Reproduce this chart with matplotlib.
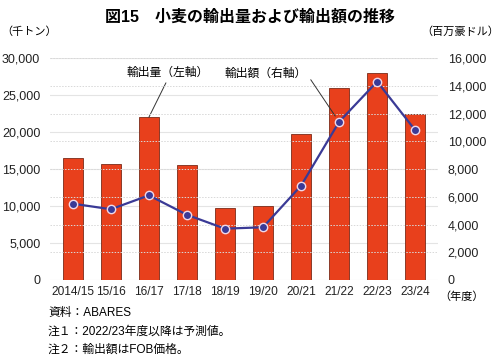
import numpy as np
import matplotlib.pyplot as plt

plt.rcParams['font.family'] = ['Liberation Sans', 'Noto Sans CJK JP', 'DejaVu Sans']

years = ['2014/15', '15/16', '16/17', '17/18', '18/19', '19/20',
         '20/21', '21/22', '22/23', '23/24']
volume = [16500, 15700, 22000, 15500, 9700, 10000, 19700, 25900, 28000, 22500]   # 千トン
value = [5500, 5100, 6100, 4700, 3700, 3800, 6800, 11400, 14300, 10800]          # 百万豪ドル

x = np.arange(len(years))

fig = plt.figure(figsize=(5, 3.56), dpi=100)
ax1 = fig.add_axes([0.10, 0.2135, 0.776, 0.6235])
ax2 = ax1.twinx()

# grid lines
for v in range(0, 30001, 5000):
    ax1.axhline(v, color='#e4e4e4', lw=0.8, zorder=0)
for v in range(2000, 16001, 2000):
    ax2.axhline(v, color='#d8d8d8', lw=0.7, ls=(0, (1.5, 1.5)), zorder=0)

ax1.bar(x, volume, width=0.52, color='#e8401c', edgecolor='#7a2a18', lw=0.6, zorder=2)
ax2.plot(x, value, color='#3a3a96', lw=1.6, marker='o', ms=6,
         mfc='#3a3a96', mec='#f0d8e8', mew=1.0, zorder=3)

ax1.set_zorder(1)
ax2.set_zorder(2)
ax1.patch.set_visible(False)

ax1.set_xlim(-0.6, len(years) - 0.4)
ax1.set_ylim(0, 30000)
ax2.set_ylim(0, 16000)
ax1.set_yticks(range(0, 30001, 5000))
ax2.set_yticks(range(0, 16001, 2000))
ax1.set_yticklabels([f'{v:,}' for v in range(0, 30001, 5000)])
ax2.set_yticklabels([f'{v:,}' for v in range(0, 16001, 2000)])
ax1.set_xticks(x)
ax1.set_xticklabels(years)

for a in (ax1, ax2):
    for s in a.spines.values():
        s.set_visible(False)
    a.tick_params(length=0, labelsize=9, colors='#222222')
ax1.tick_params(axis='y', pad=7)
ax2.tick_params(axis='y', pad=7)
ax1.tick_params(axis='x', pad=4, labelsize=8.6)
ax1.get_xticklabels()[0].set_x(-0.08)

fig.text(0.5, 0.952, '図15　小麦の輸出量および輸出額の推移', ha='center', va='center',
         fontsize=11.5, fontweight='bold')
fig.text(0.003, 0.91, '（千トン）', fontsize=8, va='center')
fig.text(0.998, 0.91, '（百万豪ドル）', fontsize=8, va='center', ha='right')
fig.text(0.878, 0.166, '（年度）', fontsize=8, va='center')

ax1.annotate('輸出量（左軸）', xy=(2.0, 22000), xytext=(2.5, 28000),
             fontsize=8.5, ha='center', va='center',
             arrowprops=dict(arrowstyle='-', color='#333333', lw=0.7, shrinkA=1, shrinkB=0,
                             relpos=(0.5, 0.0)))
ax2.annotate('輸出額（右軸）', xy=(7.0, 11400), xytext=(5.06, 14900),
             fontsize=8.5, ha='center', va='center',
             arrowprops=dict(arrowstyle='-', color='#333333', lw=0.7, shrinkA=2, shrinkB=5,
                             relpos=(1.0, 0.5)))

notes = ['資料：ABARES', '注１：2022/23年度以降は予測値。', '注２：輸出額はFOB価格。']
for i, t in enumerate(notes):
    fig.text(0.096, 0.121 - i * 0.052, t, fontsize=8.5, va='center')

fig.savefig('out.png', dpi=100)
